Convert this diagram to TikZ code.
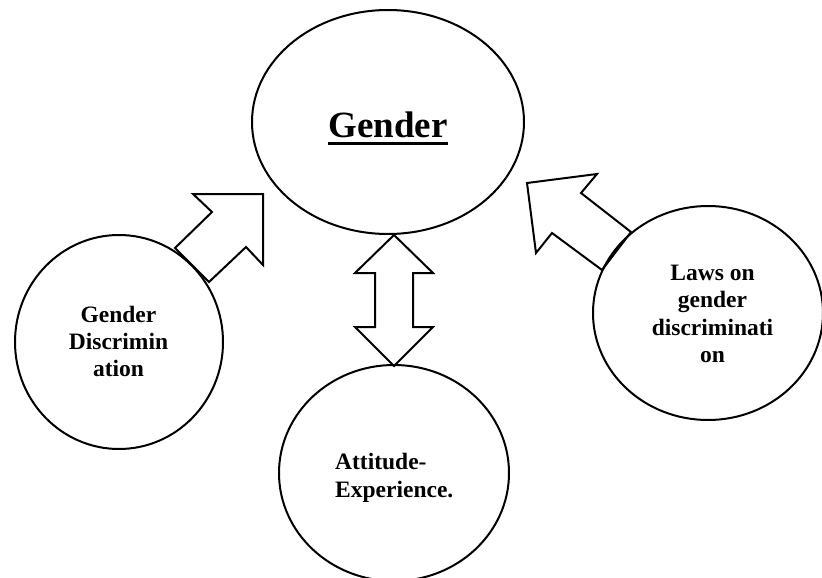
\documentclass[tikz,border=0pt]{standalone}
\usepackage{fontspec}
\setmainfont{Liberation Serif}
\usetikzlibrary{shapes.geometric}
\tikzset{
  bubble/.style={draw, ellipse, line width=2pt, inner sep=0pt},
  blockarrow/.style={draw, line width=2pt, line join=miter, fill=white},
  label/.style={inner sep=0pt, font=\bfseries\fontsize{23.5}{27.4}\selectfont},
}
\begin{document}
\begin{tikzpicture}[x=1pt,y=-1pt]
\useasboundingbox (0,0) rectangle (822,578);
\clip (0,0) rectangle (822,578);
\fill[white] (0,0) rectangle (822,578);
% block arrows
\draw[blockarrow] (193,194) -- (263,194) -- (263,265) -- (246,247) -- (209,282) -- (175,248) -- (212,212) -- cycle;
\draw[blockarrow] (527,183) -- (597,174) -- (581,193) -- (631,232) -- (602,270) -- (552,233) -- (536,253) -- cycle;
\draw[blockarrow] (394,235) -- (433,273) -- (413,273) -- (413,327) -- (433,327) -- (394,366) -- (355,327) -- (375,327) -- (375,273) -- (355,273) -- cycle;
% bubbles
\node[bubble, minimum width=272pt, minimum height=224pt] (gender) at (388,122) {};
\node[bubble, minimum width=208pt, minimum height=214pt] (disc) at (119,342) {};
\node[bubble, minimum width=230pt, minimum height=216pt] (att) at (394,473) {};
\node[bubble, minimum width=230pt, minimum height=214pt] (laws) at (708,313) {};
% texts
\node[inner sep=0pt, anchor=base, font=\bfseries\fontsize{37}{44}\selectfont] (gtext) at (388,137) {Gender};
\draw[line width=3pt] ([yshift=-6pt]gtext.base west) -- ([yshift=-6pt]gtext.base east);
\node[label, align=center] (disctext) at (118.5,341.5) {Gender\\Discrimin\\ation};
\node[label, align=left, anchor=west] (atttext) at (335,478) {Attitude-\\Experience.};
\node[label, align=center] (lawstext) at (712.5,314) {Laws on\\gender\\discriminati\\on};
\end{tikzpicture}
\end{document}
